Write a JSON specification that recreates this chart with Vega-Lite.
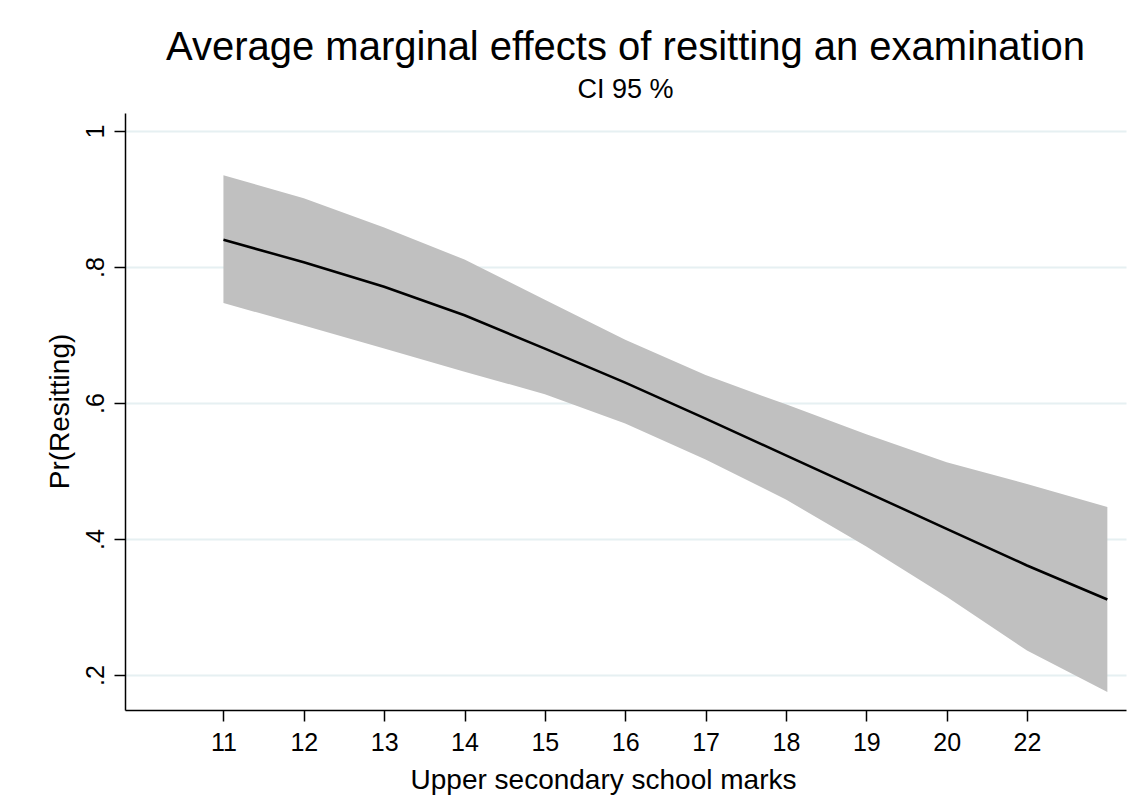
{
  "$schema": "https://vega.github.io/schema/vega-lite/v6.json",
  "width": 1001,
  "height": 597,
  "autosize": "none",
  "padding": {"left": 125, "top": 113, "right": 9, "bottom": 87},
  "background": "white",
  "title": {
    "text": "Average marginal effects of resitting an examination",
    "subtitle": "CI 95 %",
    "font": "Liberation Sans",
    "subtitleFont": "Liberation Sans",
    "fontSize": 40,
    "subtitleFontSize": 27,
    "fontWeight": "normal",
    "color": "black",
    "subtitleColor": "black",
    "anchor": "middle",
    "offset": 10,
    "subtitlePadding": 9
  },
  "data": {
    "values": [
      {"position": 1, "upper": 0.935, "margin": 0.840, "lower": 0.747},
      {"position": 2, "upper": 0.901, "margin": 0.807, "lower": 0.714},
      {"position": 3, "upper": 0.858, "margin": 0.771, "lower": 0.680},
      {"position": 4, "upper": 0.811, "margin": 0.729, "lower": 0.646},
      {"position": 5, "upper": 0.752, "margin": 0.680, "lower": 0.613},
      {"position": 6, "upper": 0.693, "margin": 0.630, "lower": 0.570},
      {"position": 7, "upper": 0.641, "margin": 0.577, "lower": 0.517},
      {"position": 8, "upper": 0.598, "margin": 0.523, "lower": 0.458},
      {"position": 9, "upper": 0.554, "margin": 0.469, "lower": 0.389},
      {"position": 10, "upper": 0.513, "margin": 0.415, "lower": 0.315},
      {"position": 11, "upper": 0.481, "margin": 0.361, "lower": 0.236},
      {"position": 12, "upper": 0.447, "margin": 0.311, "lower": 0.175}
    ]
  },
  "encoding": {
    "x": {
      "field": "position",
      "type": "quantitative",
      "scale": {"domain": [-0.225, 12.232], "nice": false, "zero": false},
      "axis": {
        "title": "Upper secondary school marks",
        "values": [1, 2, 3, 4, 5, 6, 7, 8, 9, 10, 11],
        "labelExpr": "['11','12','13','14','15','16','17','18','19','20','22'][datum.value - 1]",
        "grid": false,
        "labelBaseline": "alphabetic",
        "labelPadding": 29,
        "titleX": 478,
        "titleY": 78,
        "titleBaseline": "alphabetic",
        "titleAlign": "center"
      }
    }
  },
  "layer": [
    {
      "mark": {"type": "area", "color": "#c0c0c0", "opacity": 1},
      "encoding": {
        "y": {
          "field": "lower",
          "type": "quantitative",
          "scale": {"domain": [0.1485, 1.0265], "nice": false, "zero": false},
          "axis": {
            "title": "Pr(Resitting)",
            "values": [0.2, 0.4, 0.6, 0.8, 1],
            "labelExpr": "datum.value > 0.95 ? '1' : replace(format(datum.value, '.1f'), '0.', '.')",
            "grid": true,
            "gridColor": "#e6f0f2",
            "gridWidth": 2,
            "labelAngle": -90,
            "labelAlign": "center",
            "labelBaseline": "alphabetic",
            "labelPadding": 11,
            "titleAngle": -90,
            "titleX": -57,
            "titleY": 298,
            "titleBaseline": "alphabetic",
            "titleAlign": "center"
          }
        },
        "y2": {"field": "upper"}
      }
    },
    {
      "mark": {"type": "line", "color": "black", "strokeWidth": 2.5},
      "encoding": {
        "y": {"field": "margin", "type": "quantitative"}
      }
    }
  ],
  "config": {
    "view": {"stroke": null},
    "axis": {
      "domainColor": "black",
      "domainWidth": 1.5,
      "tickColor": "black",
      "tickWidth": 1.5,
      "tickSize": 11,
      "labelColor": "black",
      "titleColor": "black",
      "labelFont": "Liberation Sans",
      "titleFont": "Liberation Sans",
      "labelFontSize": 25,
      "titleFontSize": 28,
      "titleFontWeight": "normal",
      "labelOverlap": false,
      "labelFlush": false
    }
  }
}
